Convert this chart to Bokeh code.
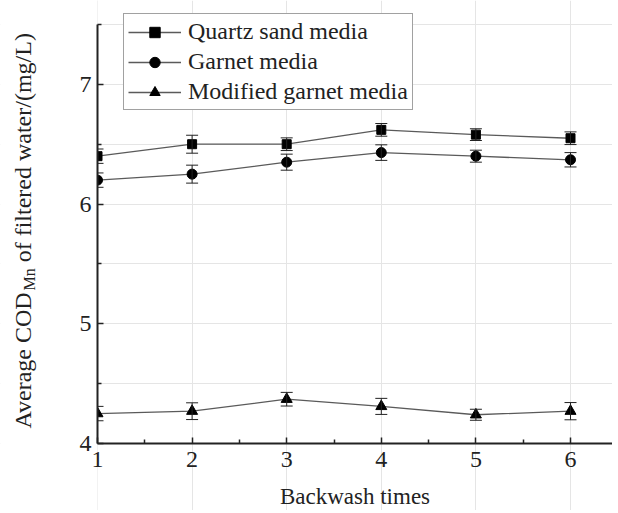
import numpy as np
from bokeh.plotting import figure
from bokeh.models import (ColumnDataSource, Whisker, Legend, LegendItem, Label, Range1d,
                          LinearAxis, FixedTicker, BoxAnnotation)
from bokeh.embed import file_html
from bokeh.resources import INLINE

backwash = [1, 2, 3, 4, 5, 6]
quartz = [6.40, 6.50, 6.50, 6.62, 6.58, 6.55]
quartz_err = [0.06, 0.075, 0.053, 0.053, 0.049, 0.053]
garnet = [6.20, 6.25, 6.35, 6.43, 6.40, 6.37]
garnet_err = [0.06, 0.075, 0.067, 0.065, 0.05, 0.06]
modified = [4.25, 4.27, 4.37, 4.31, 4.24, 4.27]
modified_err = [0.06, 0.07, 0.057, 0.067, 0.046, 0.072]
series_names = ["Quartz sand media", "Garnet media", "Modified garnet media"]
y_ticks = [4, 5, 6, 7]
x_ticks = [1, 2, 3, 4, 5, 6]

FONT = "Liberation Serif"
W, H = 612, 510
# pixel layout of the plotting area inside the canvas
AX_LEFT, AX_TOP, AX_BOTTOM = 97, 24, 443
X0, X1, Y0, Y1 = 1.0, 6.0, 4.0, 7.5
px_x = (570 - AX_LEFT) / (X1 - X0)
px_y = (AX_BOTTOM - AX_TOP) / (Y1 - Y0)
x_start = X0 - AX_LEFT / px_x
x_end = X0 + (W - AX_LEFT) / px_x
y_start = Y0 - (H - AX_BOTTOM) / px_y
y_end = Y0 + AX_BOTTOM / px_y

p = figure(width=W, height=H, output_backend="svg", toolbar_location=None,
           x_range=Range1d(x_start, x_end), y_range=Range1d(y_start, y_end),
           x_axis_location=None, y_axis_location=None, min_border=0)
p.outline_line_color = None
p.background_fill_color = "white"
p.border_fill_color = "white"

xaxis = LinearAxis(fixed_location=Y0, bounds=(X0, x_end),
                   ticker=FixedTicker(ticks=x_ticks, minor_ticks=list(np.arange(1.5, 6.5, 1.0))))
yaxis = LinearAxis(fixed_location=X0, bounds=(Y0, Y1),
                   ticker=FixedTicker(ticks=y_ticks, minor_ticks=[4.5, 5.5, 6.5, 7.5]))
for ax in (xaxis, yaxis):
    ax.axis_line_color = "#222222"
    ax.axis_line_width = 2
    ax.major_tick_in = 6
    ax.major_tick_out = 0
    ax.minor_tick_in = 4
    ax.minor_tick_out = 0
    ax.major_tick_line_color = "#222222"
    ax.minor_tick_line_color = "#222222"
    ax.major_tick_line_width = 1.5
    ax.minor_tick_line_width = 1.5
    ax.major_label_text_font = FONT
    ax.major_label_text_font_size = "24px"
    ax.major_label_text_color = "#222222"
xaxis.major_label_standoff = 8
yaxis.major_label_standoff = 6
xaxis.axis_label = "Backwash times"
xaxis.axis_label_text_font = FONT
xaxis.axis_label_text_font_size = "23px"
xaxis.axis_label_text_font_style = "normal"
xaxis.axis_label_text_color = "#222222"
xaxis.axis_label_standoff = 14

markers = ["square", "circle", "triangle"]
sizes = [9, 10, 11]
data = [(quartz, quartz_err), (garnet, garnet_err), (modified, modified_err)]
items = []
for name, (vals, errs), mk, sz in zip(series_names, data, markers, sizes):
    v = np.array(vals)
    e = np.array(errs)
    src = ColumnDataSource(dict(x=backwash, y=vals, lo=v - e, hi=v + e))
    ln = p.line("x", "y", source=src, line_color="#5a5a5a", line_width=1.3)
    w = Whisker(base="x", lower="lo", upper="hi", source=src,
                line_color="#222222", line_width=1, level="glyph")
    w.upper_head.size = 12
    w.lower_head.size = 12
    w.upper_head.line_color = "#222222"
    w.lower_head.line_color = "#222222"
    p.add_layout(w)
    sc = p.scatter("x", "y", source=src, marker=mk, size=sz,
                   fill_color="black", line_color="black")
    items.append(LegendItem(label=name, renderers=[ln, sc]))

# mask the part of the marks that falls left of the y axis (as in a clipped plot area)
p.add_layout(BoxAnnotation(right=X0, fill_color="white", fill_alpha=1.0,
                           line_color=None, level="glyph"))

legend = Legend(items=items, location=(123, H - 110))
legend.label_text_font = FONT
legend.label_text_font_size = "24px"
legend.label_text_color = "#222222"
legend.border_line_color = "#444444"
legend.border_line_width = 1
legend.background_fill_alpha = 1
legend.glyph_width = 53
legend.glyph_height = 26
legend.label_height = 26
legend.label_standoff = 7
legend.spacing = 3
legend.padding = 4
legend.margin = 0
p.add_layout(legend)
p.add_layout(xaxis, "below")
p.add_layout(yaxis, "left")

# y axis label with subscript, built from pieces anchored at the axes corner
fs = 24
fs_sub = 16
main_part = "Average COD"
sub_part = "Mn"
rest_part = "of filtered water/(mg/L)"
w_main = 5.748 * fs
w_sub = 1.389 * fs_sub
w_space = 0.25 * fs
yo0 = 15
lx = -75
for txt, xo, yo, size in [(main_part, lx, yo0, fs),
                          (sub_part, lx + 7, yo0 + w_main, fs_sub),
                          (rest_part, lx, yo0 + w_main + w_sub + w_space, fs)]:
    p.add_layout(Label(x=X0, y=Y0, x_offset=xo, y_offset=yo, text=txt,
                       angle=np.pi / 2, text_align="left", text_baseline="middle",
                       text_font=FONT, text_font_size=f"{size}px", text_color="#222222"))

open("out.html", "w").write(file_html(p, INLINE))
